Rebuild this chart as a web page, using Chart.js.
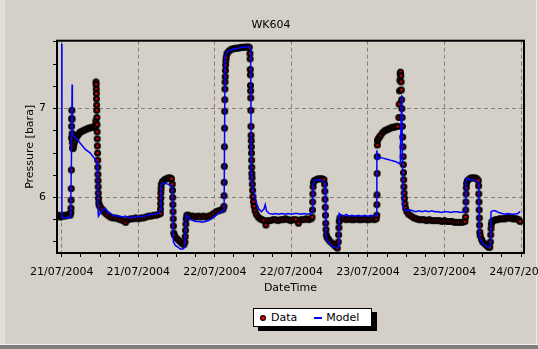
<!DOCTYPE html>
<html>
<head>
<meta charset="utf-8">
<title>WK604</title>
<script src="https://cdn.jsdelivr.net/npm/chart.js@4.4.1/dist/chart.umd.min.js"></script>
<style>
  html, body { margin: 0; padding: 0; }
  body {
    width: 538px; height: 349px; overflow: hidden; position: relative;
    background: #d4d0c8; font-family: 'DejaVu Sans', sans-serif;
  }
  #wrap { position: absolute; left: 0; top: 0; width: 570px; height: 300px; }
  .edge { position: absolute; }
  .edge.left { left: 0; top: 0; width: 5px; height: 344px; background: #e0ded8; }
  .edge.right { left: 536px; top: 0; width: 1px; height: 344px; background: #eceae4; }
  .edge.hilite { left: 0; top: 344px; width: 538px; height: 1px; background: #f2f1ec; }
  .edge.shade { left: 0; top: 345px; width: 538px; height: 4px; background: #808080; }
  #legend {
    position: absolute; left: 253px; top: 308px; width: 119px; height: 19px;
    box-sizing: border-box; background: #fff; border: 1px solid #000;
    box-shadow: 5px 4px 0 #000; display: flex; align-items: center;
    padding-left: 5px; font-size: 11px; color: #000; white-space: nowrap;
  }
  #legend .item { display: inline-flex; align-items: center; margin-right: 17px; }
  #legend .key { margin-right: 4px; }
  #legend .line { display: inline-block; width: 8px; height: 2px; }
</style>
</head>
<body>
<div class="edge left"></div>
<div class="edge right"></div>
<div class="edge hilite"></div>
<div class="edge shade"></div>
<div id="wrap"><canvas id="chart" width="570" height="300"></canvas></div>
<div id="legend"></div>
<script>
// x axis is hours from 21/07/2004 00:00, one label every 12 h
const dateLabels = ['21/07/2004', '21/07/2004', '22/07/2004', '22/07/2004',
                    '23/07/2004', '23/07/2004', '24/07/2004'];

// measured pressure, one row per stretch of the record
const dataHours = [
  -0.7, -0.45, -0.2, 0.05, 0.3, 0.55, 0.8, 1.05, 1.3,
  1.42, 1.44, 1.46, 1.48, 1.5, 1.52, 1.54, 1.56, 1.58, 1.6, 1.63, 1.66, 1.7, 1.74, 1.8, 1.9, 2.0, 2.2, 2.4, 2.6, 2.8, 3.0, 3.3, 3.6, 3.9, 4.2, 4.5, 4.8, 5.1, 5.3,
  5.33, 5.36, 5.38, 5.40, 5.42, 5.44, 5.46, 5.48, 5.50, 5.52, 5.54, 5.56, 5.58, 5.60, 5.62, 5.64, 5.66, 5.68, 5.70, 5.72, 5.75, 5.80, 5.87,
  6.0, 6.3, 6.6, 6.9, 7.2, 7.6, 8.0, 8.4, 8.8, 9.2, 9.6, 10.0, 10.4, 10.8, 11.2, 11.6, 12.0, 12.4, 12.8, 13.2, 13.6, 14.0, 14.4, 14.8, 15.2,
  15.45, 15.47, 15.49, 15.51, 15.53, 15.56, 15.6, 15.8, 16.1, 16.4, 16.7, 17.0, 17.2,
  17.32, 17.35, 17.38, 17.41, 17.44, 17.47, 17.5, 17.55, 17.7, 18.0, 18.3, 18.6, 18.9, 19.15,
  19.3, 19.35, 19.4, 19.45, 19.5, 19.6,
  19.8, 20.2, 20.6, 21.0, 21.4, 21.8, 22.2, 22.6, 23.0, 23.4, 23.8, 24.2, 24.6, 25.0, 25.3,
  25.42, 25.44, 25.46, 25.48, 25.5, 25.52, 25.54, 25.56, 25.58, 25.6, 25.62, 25.65, 25.68, 25.72, 25.78, 25.9,
  26.1, 26.4, 26.7, 27.0, 27.3, 27.6, 27.9, 28.2, 28.5, 28.8, 29.1, 29.4,
  29.5, 29.52, 29.54, 29.56, 29.58, 29.6, 29.62, 29.64, 29.66, 29.68, 29.7, 29.72, 29.74, 29.76, 29.78, 29.8, 29.83, 29.87, 29.92, 29.97,
  30.05, 30.15, 30.3, 30.5, 30.8, 31.1, 31.4, 31.7, 32.0, 32.3, 32.7, 33.1, 33.5, 33.9, 34.3, 34.7, 35.1, 35.5, 35.9, 36.3, 36.7, 37.1, 37.5, 37.9, 38.3, 38.7, 39.1,
  39.25, 39.3, 39.33, 39.36, 39.4, 39.45, 39.6, 39.9, 40.2, 40.5, 40.8, 41.1,
  41.2, 41.23, 41.26, 41.3, 41.34, 41.38, 41.42, 41.48, 41.6, 41.8, 42.0, 42.3, 42.6, 42.9, 43.2,
  43.35, 43.4, 43.45, 43.5, 43.6,
  43.8, 44.2, 44.6, 45.0, 45.4, 45.8, 46.2, 46.6, 47.0, 47.4, 47.8, 48.2, 48.6, 49.0, 49.3,
  49.38, 49.4, 49.42, 49.44, 49.46, 49.48, 49.5, 49.6, 49.8, 50.0, 50.3, 50.6, 50.9, 51.2, 51.5, 51.8, 52.1, 52.4, 52.7,
  52.85, 52.9, 52.95, 53.0, 53.05, 53.1, 53.15, 53.2, 53.24, 53.28, 53.32, 53.36, 53.4, 53.44, 53.48, 53.51, 53.54, 53.57, 53.6, 53.63,
  53.67, 53.72, 53.8, 53.9, 54.1, 54.4, 54.8, 55.2, 55.6, 56.0, 56.4, 56.8, 57.2, 57.6, 58.0, 58.4, 58.8, 59.2, 59.6, 60.0,
  60.4, 60.8, 61.2, 61.6, 62.0, 62.4, 62.8, 63.2,
  63.3, 63.33, 63.36, 63.39, 63.42, 63.46, 63.6, 63.9, 64.2, 64.5, 64.8, 65.1, 65.3,
  65.35, 65.38, 65.41, 65.44, 65.47, 65.5, 65.54, 65.6, 65.8, 66.0, 66.3, 66.6, 66.9, 67.1,
  67.2, 67.25, 67.3, 67.35, 67.45, 67.7, 68.0, 68.3, 68.6, 68.9, 69.2, 69.5, 69.8, 70.1, 70.4, 70.7, 71.0, 71.3, 71.6, 71.85
];
const dataBara = [
  5.79, 5.80, 5.78, 5.79, 5.80, 5.79, 5.80, 5.81, 5.80,
  5.83, 5.88, 5.97, 6.10, 6.31, 6.67, 6.80, 6.89, 6.98, 6.88, 6.72, 6.62, 6.56, 6.55, 6.57, 6.60, 6.63, 6.66, 6.69, 6.71, 6.73, 6.74, 6.75, 6.76, 6.77, 6.78, 6.785, 6.79, 6.80, 6.80,
  6.86, 7.30, 7.27, 7.22, 7.17, 7.11, 7.04, 6.98, 6.90, 6.82, 6.74, 6.66, 6.58, 6.50, 6.42, 6.34, 6.26, 6.19, 6.12, 6.05, 5.99, 5.94, 5.91,
  5.90, 5.87, 5.84, 5.82, 5.80, 5.78, 5.77, 5.77, 5.76, 5.75, 5.74, 5.72, 5.75, 5.76, 5.76, 5.77, 5.76, 5.77, 5.77, 5.78, 5.79, 5.79, 5.80, 5.80, 5.81,
  5.82, 5.87, 5.93, 5.99, 6.05, 6.10, 6.15, 6.18, 6.20, 6.21, 6.22, 6.22, 6.21,
  6.15, 6.08, 6.00, 5.92, 5.84, 5.76, 5.68, 5.60, 5.57, 5.54, 5.52, 5.50, 5.48, 5.47,
  5.50, 5.56, 5.63, 5.70, 5.76, 5.80,
  5.80, 5.79, 5.79, 5.78, 5.79, 5.78, 5.79, 5.78, 5.79, 5.80, 5.82, 5.84, 5.85, 5.86, 5.87,
  5.90, 6.02, 6.17, 6.35, 6.57, 6.78, 6.97, 7.10, 7.22, 7.30, 7.36, 7.43, 7.49, 7.54, 7.58, 7.62,
  7.64, 7.66, 7.67, 7.675, 7.68, 7.68, 7.685, 7.69, 7.69, 7.69, 7.695, 7.69,
  7.62, 7.56, 7.44, 7.38, 7.26, 7.20, 7.12, 6.98, 6.80, 6.70, 6.64, 6.57, 6.50, 6.42, 6.34, 6.27, 6.22, 6.15, 6.08, 6.01,
  5.95, 5.90, 5.85, 5.81, 5.78, 5.76, 5.75, 5.74, 5.69, 5.74, 5.74, 5.75, 5.75, 5.74, 5.75, 5.75, 5.76, 5.75, 5.74, 5.75, 5.75, 5.71, 5.75, 5.75, 5.76, 5.75, 5.76,
  5.78, 5.86, 5.95, 6.04, 6.12, 6.17, 6.19, 6.20, 6.21, 6.21, 6.21, 6.20,
  6.15, 6.07, 5.98, 5.89, 5.80, 5.71, 5.64, 5.58, 5.55, 5.53, 5.51, 5.49, 5.47, 5.45, 5.43,
  5.50, 5.58, 5.66, 5.73, 5.77,
  5.77, 5.76, 5.75, 5.76, 5.75, 5.75, 5.76, 5.75, 5.75, 5.76, 5.75, 5.75, 5.76, 5.75, 5.76,
  5.80, 5.92, 6.03, 6.27, 6.46, 6.59, 6.64, 6.66, 6.68, 6.70, 6.73, 6.75, 6.76, 6.77, 6.78, 6.79, 6.79, 6.80, 6.80,
  6.90, 7.05, 7.20, 7.32, 7.39, 7.41, 7.37, 7.30, 7.21, 7.10, 7.00, 6.90, 6.80, 6.68, 6.57, 6.46, 6.37, 6.28, 6.20, 6.12,
  6.05, 5.99, 5.93, 5.88, 5.84, 5.81, 5.79, 5.77, 5.76, 5.75, 5.75, 5.75, 5.74, 5.75, 5.74, 5.74, 5.74, 5.74, 5.73, 5.74,
  5.73, 5.73, 5.73, 5.72, 5.72, 5.72, 5.72, 5.73,
  5.78, 5.86, 5.95, 6.04, 6.11, 6.16, 6.19, 6.21, 6.22, 6.22, 6.22, 6.21, 6.19,
  6.13, 6.04, 5.95, 5.86, 5.77, 5.69, 5.61, 5.57, 5.53, 5.50, 5.48, 5.46, 5.44, 5.44,
  5.50, 5.58, 5.65, 5.70, 5.73, 5.74, 5.75, 5.75, 5.76, 5.76, 5.76, 5.76, 5.77, 5.77, 5.77, 5.76, 5.76, 5.76, 5.75, 5.73
];

// simulated pressure
const modelHours = [
  0, 0.02, 0.3, 0.6, 0.9, 1.2, 1.38, 1.52, 1.62, 1.66,
  2.9, 3.7, 4.48, 5.53, 5.62, 5.7, 5.75, 6.0, 6.4, 6.8,
  7.2, 7.6, 8.0, 8.5, 9.0, 9.5, 10.0, 10.5, 11.0, 11.5,
  12.0, 12.5, 13.0, 13.5, 14.0, 14.5, 15.0, 15.3, 15.45, 15.55,
  15.8, 16.2, 16.6, 17.0, 17.3, 17.5, 17.8, 18.2, 18.6, 19.0,
  19.3, 19.5, 19.8, 20.2, 20.6, 21.0, 21.5, 22.0, 22.5, 23.0,
  23.5, 24.0, 24.5, 25.0, 25.45, 25.6, 25.9, 26.4, 27.0, 27.6,
  28.2, 28.8, 29.4, 29.6, 29.72, 29.8, 30.0, 30.3, 30.6, 30.9,
  31.3, 31.7, 31.9, 32.1, 32.5, 33.0, 33.5, 34.0, 34.5, 35.0,
  35.5, 36.0, 36.5, 37.0, 37.5, 38.0, 38.5, 39.0, 39.25, 39.35,
  39.6, 40.0, 40.5, 41.0, 41.3, 41.4, 41.6, 42.0, 42.4, 42.8,
  43.2, 43.4, 43.5, 43.8, 44.2, 44.6, 45.0, 45.5, 46.0, 46.5,
  47.0, 47.5, 48.0, 48.5, 49.0, 49.3, 49.4, 49.55, 49.9, 50.5,
  51.0, 51.5, 52.0, 52.5, 52.9, 53.05, 53.1, 53.3, 53.5, 53.7,
  54.2, 54.6, 55.0, 55.5, 56.0, 56.5, 57.0, 57.5, 58.0, 58.5,
  59.0, 59.5, 60.0, 60.5, 61.0, 61.5, 62.0, 62.5, 63.0, 63.25,
  63.35, 63.6, 64.0, 64.5, 65.0, 65.4, 65.5, 65.8, 66.2, 66.6,
  67.0, 67.2, 67.3, 67.6, 68.0, 68.5, 69.0, 69.5, 70.0, 70.5,
  71.0, 71.5, 71.85
];
const modelBara = [
  7.73, 5.78, 5.77, 5.77, 5.78, 5.77, 5.78, 6.46, 7.27, 6.71,
  6.61, 6.54, 6.50, 6.40, 6.20, 5.84, 5.79, 5.82, 5.86, 5.88,
  5.84, 5.82, 5.80, 5.79, 5.79, 5.78, 5.79, 5.77, 5.78, 5.78,
  5.79, 5.78, 5.79, 5.80, 5.81, 5.81, 5.82, 5.83, 5.86, 6.14,
  6.16, 6.16, 6.15, 6.14, 6.12, 5.50, 5.46, 5.44, 5.42, 5.42,
  5.44, 5.80, 5.78, 5.75, 5.74, 5.73, 5.73, 5.72, 5.73, 5.74,
  5.76, 5.79, 5.82, 5.84, 5.85, 7.58, 7.64, 7.66, 7.67, 7.68,
  7.69, 7.69, 7.70, 7.66, 6.28, 6.16, 6.09, 6.00, 5.92, 5.87,
  5.84, 5.87, 5.92, 5.85, 5.82, 5.81, 5.82, 5.81, 5.82, 5.81,
  5.82, 5.81, 5.82, 5.82, 5.81, 5.82, 5.81, 5.82, 5.84, 6.15,
  6.19, 6.20, 6.20, 6.18, 6.15, 5.58, 5.52, 5.48, 5.45, 5.44,
  5.43, 5.46, 5.82, 5.80, 5.79, 5.81, 5.79, 5.80, 5.79, 5.80,
  5.79, 5.80, 5.79, 5.80, 5.79, 5.80, 6.53, 6.43, 6.45, 6.44,
  6.43, 6.42, 6.41, 6.40, 6.38, 6.40, 6.55, 7.15, 5.92, 5.86,
  5.85, 5.86, 5.85, 5.84, 5.85, 5.84, 5.85, 5.84, 5.85, 5.84,
  5.84, 5.83, 5.84, 5.84, 5.83, 5.84, 5.84, 5.83, 5.84, 5.85,
  6.18, 6.22, 6.20, 6.20, 6.19, 6.16, 5.55, 5.50, 5.47, 5.45,
  5.44, 5.46, 5.84, 5.85, 5.85, 5.83, 5.82, 5.81, 5.82, 5.81,
  5.81, 5.82, 5.84
];

const hourMin = -0.75, hourMax = 72.47;
const baraMin = 5.375, baraMax = 7.764;

function toPoints(xs, ys) {
  return xs.map((x, i) => ({ x: x, y: ys[i] }));
}

// black disc with a red centre for the measured points;
// where points crowd together the next disc hides the red
function makeMarker(outer, inner) {
  const size = Math.ceil(outer * 2 + 2);
  const c = document.createElement('canvas');
  c.width = size; c.height = size;
  const g = c.getContext('2d');
  const m = size / 2;
  g.fillStyle = '#000';
  g.beginPath(); g.arc(m, m, outer, 0, Math.PI * 2); g.fill();
  g.fillStyle = '#ff0000';
  g.beginPath(); g.arc(m, m, inner, 0, Math.PI * 2); g.fill();
  return c;
}

// ticks at every whole step between the axis ends
const stepTicks = step => scale => {
  const first = Math.ceil(scale.min / step - 1e-9);
  const last = Math.floor(scale.max / step + 1e-9);
  const ticks = [];
  for (let i = first; i <= last; i++) ticks.push({ value: i * step });
  scale.ticks = ticks;
};
const isWhole = v => Math.abs(v - Math.round(v)) < 1e-6;
const clear = 'rgba(0,0,0,0)';

const frame = {
  id: 'frame',
  afterDraw(chart) {
    const { ctx, chartArea: a } = chart;
    ctx.save();
    ctx.strokeStyle = '#000';
    ctx.lineWidth = 2;
    ctx.strokeRect(a.left, a.top, a.right - a.left, a.bottom - a.top);
    ctx.restore();
  }
};

Chart.defaults.font.family = "'DejaVu Sans', sans-serif";
Chart.defaults.font.size = 11;
Chart.defaults.color = '#000';

const chart = new Chart(document.getElementById('chart'), {
  type: 'line',
  data: {
    datasets: [
      {
        label: 'Data',
        data: toPoints(dataHours, dataBara),
        showLine: false,
        pointStyle: makeMarker(3.5, 1.25),
        pointRadius: 4,
        borderColor: '#000',
        backgroundColor: '#ff0000',
        order: 1
      },
      {
        label: 'Model',
        data: toPoints(modelHours, modelBara),
        borderColor: '#0000ff',
        backgroundColor: '#0000ff',
        borderWidth: 1.5,
        pointRadius: 0,
        tension: 0,
        fill: false,
        order: 0
      }
    ]
  },
  options: {
    responsive: false,
    animation: false,
    events: [],
    layout: { padding: { left: 18, right: 46, top: 0, bottom: 5 } },
    plugins: {
      legend: { display: false },
      tooltip: { enabled: false },
      title: {
        display: true,
        text: 'WK604',
        color: '#000',
        font: { size: 11, weight: 'normal' },
        padding: { top: 19, bottom: 8.5 }
      }
    },
    scales: {
      x: {
        type: 'linear',
        min: hourMin,
        max: hourMax,
        afterBuildTicks: stepTicks(3),
        afterFit: s => { s.height = 42; },
        ticks: {
          autoSkip: false,
          maxRotation: 0,
          minRotation: 0,
          padding: 9,
          callback: v => (v % 12 === 0 ? dateLabels[v / 12] : '')
        },
        grid: {
          color: c => (c.tick && c.tick.value % 12 === 0 ? '#808080' : clear),
          tickColor: '#000',
          tickLength: 4,
          lineWidth: 1
        },
        border: { display: false, dash: [4, 3] },
        title: { display: true, text: 'DateTime', padding: { top: 4, bottom: 0 } }
      },
      y: {
        type: 'linear',
        min: baraMin,
        max: baraMax,
        afterBuildTicks: stepTicks(0.25),
        afterFit: s => { s.width = 39; },
        ticks: {
          padding: 7,
          callback: v => (isWhole(v) ? String(Math.round(v)) : '')
        },
        grid: {
          color: c => (c.tick && isWhole(c.tick.value) ? '#808080' : clear),
          tickColor: '#000',
          tickLength: 4,
          lineWidth: 1
        },
        border: { display: false, dash: [4, 3] },
        title: { display: true, text: 'Pressure [bara]', padding: { top: 6, bottom: 0 } }
      }
    }
  },
  plugins: [frame]
});

// legend box under the plot, one entry per dataset
const legend = document.getElementById('legend');
chart.data.datasets.forEach(ds => {
  const item = document.createElement('span');
  item.className = 'item';
  let key;
  if (ds.showLine === false) {
    key = makeMarker(3, 1.8);
  } else {
    key = document.createElement('span');
    key.className = 'line';
    key.style.background = ds.borderColor;
  }
  key.classList.add('key');
  item.append(key, document.createTextNode(ds.label));
  legend.append(item);
});
</script>
</body>
</html>
